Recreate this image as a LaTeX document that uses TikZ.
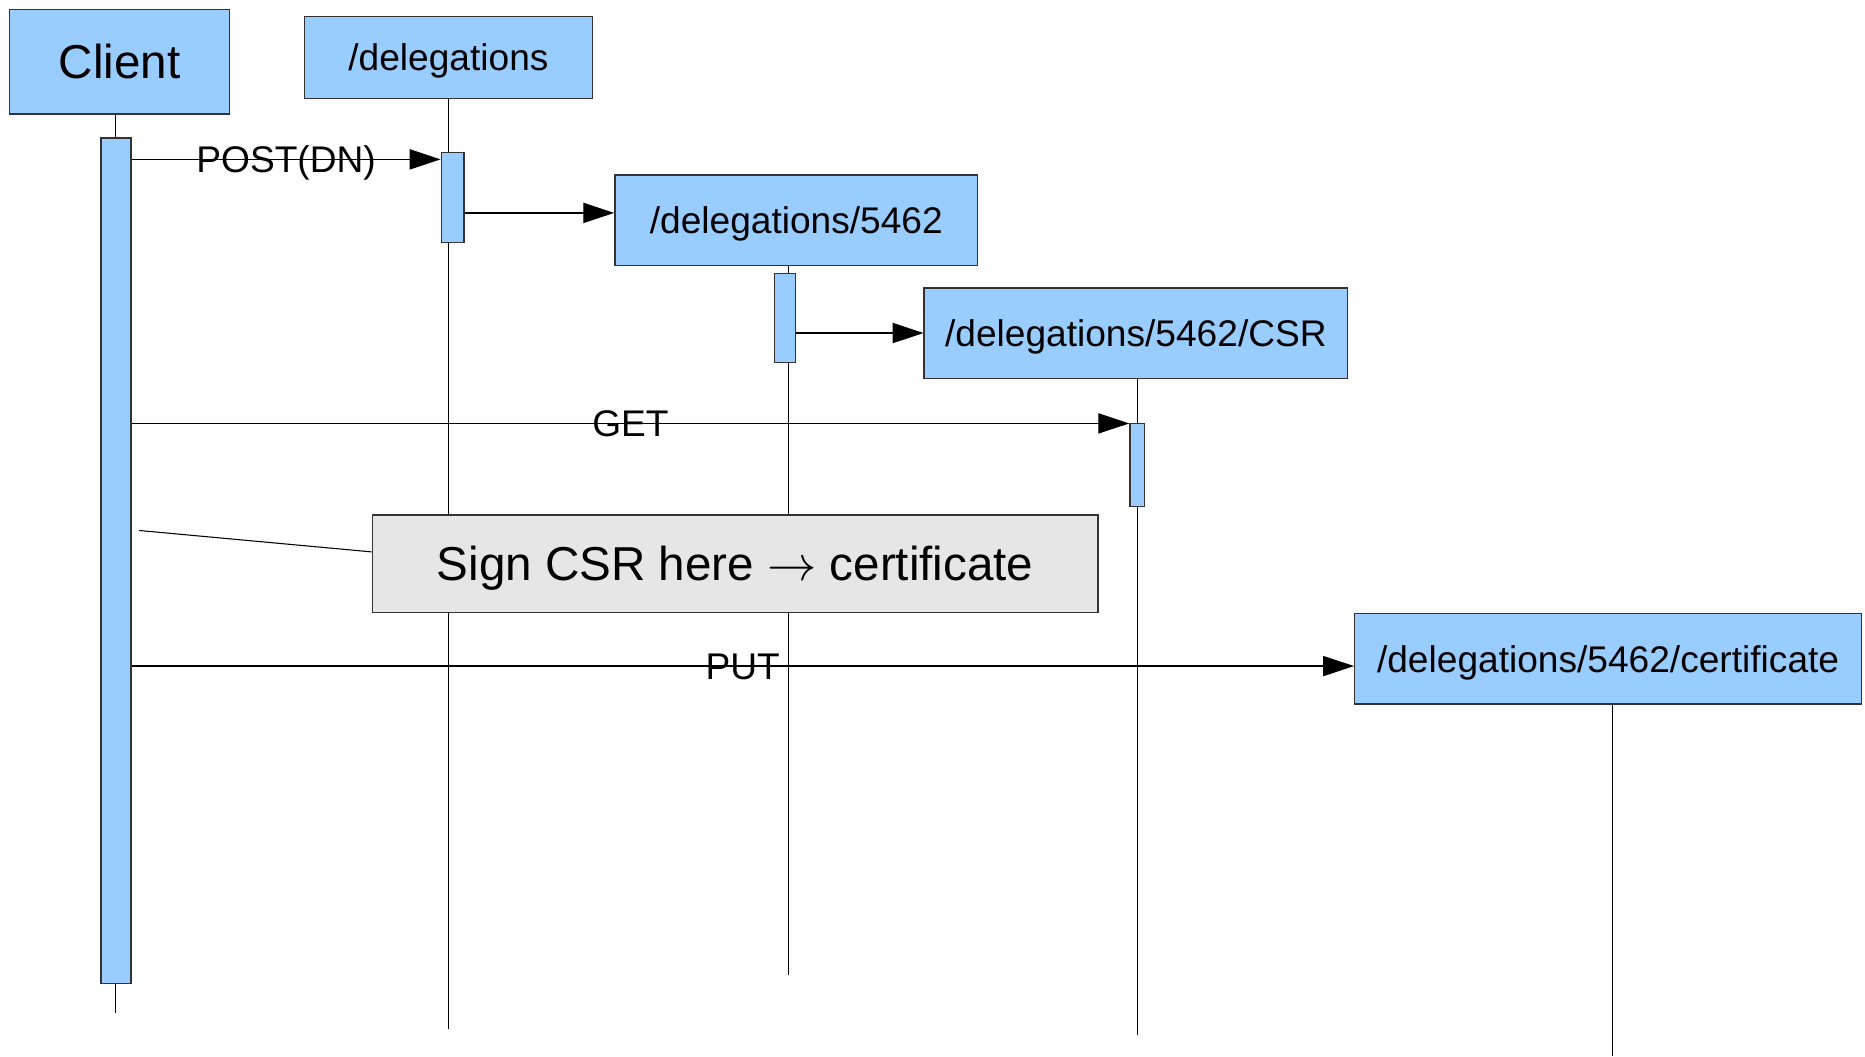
\documentclass[tikz,border=0pt]{standalone}
\usepackage{fontspec}
\setmainfont{Liberation Sans}
\usetikzlibrary{arrows.meta}
\definecolor{objblue}{HTML}{99CCFF}
\definecolor{notegray}{HTML}{E6E6E6}
\definecolor{edgegray}{HTML}{333333}

\begin{document}
\begin{tikzpicture}[x=0.5pt,y=-0.5pt,
  % text boxes are sized to the cap height so capitals sit centred
  midtext/.style={font=\fontsize{15.6}{18}\selectfont, text height=11.17pt, text depth=0pt},
  bigtext/.style={font=\fontsize{20}{24}\selectfont, text height=14.32pt, text depth=0pt},
  obj/.style={draw=edgegray, fill=objblue, line width=0.6pt, rectangle, inner sep=0pt, midtext},
  bigobj/.style={draw=edgegray, fill=objblue, line width=0.6pt, rectangle, inner sep=0pt, bigtext},
  activation/.style={draw=edgegray, fill=objblue, line width=0.6pt, rectangle, inner sep=0pt},
  notebox/.style={draw=edgegray, fill=notegray, line width=0.6pt, rectangle, inner sep=0pt, bigtext},
  life/.style={draw=black, line width=0.45pt},
  msg/.style={draw=black, line width=0.5pt, -{Triangle[length=13pt,width=8.5pt]}},
  msglabel/.style={inner sep=0pt, midtext}
]
\useasboundingbox (0,0) rectangle (1568,888);

% lifeline end points
\coordinate (clientEnd) at (97,852);
\coordinate (delegEnd) at (377,865);
\coordinate (midEnd) at (663,820);
\coordinate (csrEnd) at (956,870);
\coordinate (certEnd) at (1356,888);

% message heights
\coordinate (yPost) at (0,134);
\coordinate (yCreate) at (0,179);
\coordinate (yCsr) at (0,280);
\coordinate (yGet) at (0,356);
\coordinate (yPut) at (0,560);
\coordinate (noteTail) at (117,446);

% object heads
\node[bigobj, minimum width=92.5pt, minimum height=44pt] (client) at (100.5,52) {Client};
\node[obj, minimum width=121pt, minimum height=34.5pt] (deleg) at (377,48.5) {/delegations};
\node[obj, minimum width=152.5pt, minimum height=38pt] (mid) at (669.5,185) {/delegations/5462};
\node[obj, minimum width=178pt, minimum height=38pt] (csr) at (955,280) {/delegations/5462/CSR};
\node[obj, minimum width=213pt, minimum height=38pt] (cert) at (1352,554) {/delegations/5462/certificate};

% lifelines
\draw[life] (clientEnd |- client.south) -- (clientEnd);
\draw[life] (delegEnd |- deleg.south) -- (delegEnd);
\draw[life] (midEnd |- mid.south) -- (midEnd);
\draw[life] (csrEnd |- csr.south) -- (csrEnd);
\draw[life] (certEnd |- cert.south) -- (certEnd);

% activation bars
\node[activation, minimum width=12.5pt, minimum height=355.5pt] (actClient) at (97.5,471.5) {};
\node[activation, minimum width=9.5pt, minimum height=38pt] (actDeleg) at (380.5,166) {};
\node[activation, minimum width=9pt, minimum height=37.5pt] (actMid) at (660,267.5) {};
\node[activation, minimum width=6pt, minimum height=35pt] (actCsr) at (956,391) {};

% note
\node[notebox, minimum width=305pt, minimum height=41pt] (note) at (618,474) {Sign CSR here \(\rightarrow\) certificate};
\draw[life] (noteTail) -- ([yshift=5pt]note.west);

% messages
\draw[msg] (actClient.east |- yPost) -- node[msglabel] {POST(DN)} (actDeleg.west |- yPost);
\draw[msg] (actDeleg.east |- yCreate) -- (mid.west |- yCreate);
\draw[msg] (actMid.east |- yCsr) -- (csr.west |- yCsr);
\draw[msg] (actClient.east |- yGet) -- node[msglabel] {GET} (actCsr.west |- yGet);
\draw[msg] (actClient.east |- yPut) -- node[msglabel] {PUT} (cert.west |- yPut);
\end{tikzpicture}
\end{document}
